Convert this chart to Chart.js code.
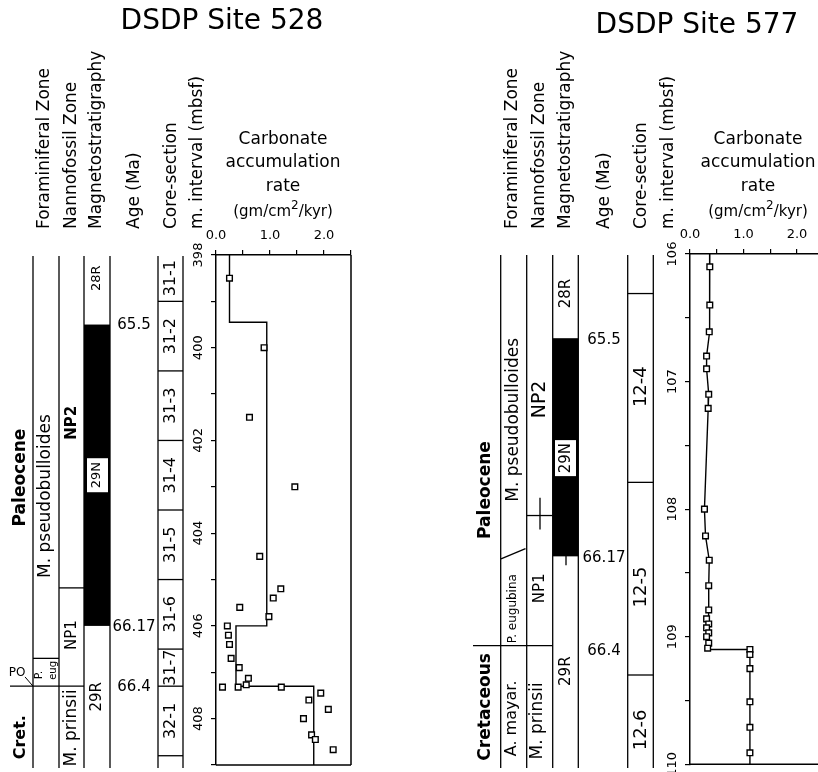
<!DOCTYPE html>
<html>
<head>
<meta charset="utf-8">
<script src="https://cdn.jsdelivr.net/npm/chart.js@4"></script>
<style>
  body { margin: 0; width: 818px; height: 772px; overflow: hidden; background: #fff; position: relative; }
  canvas { position: absolute; top: 0; }
</style>
</head>
<body>
<canvas id="site528" width="409" height="772" style="left:0"></canvas>
<canvas id="site577" width="430" height="772" style="left:409px"></canvas>
<script>
// ---- DSDP Site 528: carbonate accumulation rate samples ----
const depth528 = [398.5, 400.0, 401.5, 403.0, 404.5, 405.2, 405.4, 405.6, 405.8, 406.0, 406.2, 406.4, 406.7, 406.9, 407.13, 407.27, 407.32, 407.32, 407.32, 407.45, 407.6, 407.8, 408.0, 408.35, 408.45, 408.67];
const carb528  = [0.25, 0.89, 0.62, 1.46, 0.81, 1.20, 1.06, 0.44, 0.98, 0.21, 0.23, 0.25, 0.28, 0.43, 0.60, 0.56, 0.41, 0.12, 1.21, 1.94, 1.72, 2.08, 1.62, 1.77, 1.84, 2.17];
// interval means (step line)
const stepDepth528 = [398.0, 399.45, 399.45, 406.0, 406.0, 407.3, 407.3, 409.0];
const stepCarb528  = [0.25, 0.25, 0.94, 0.94, 0.37, 0.37, 1.81, 1.81];

// ---- DSDP Site 577 ----
const depth577 = [106.10, 106.40, 106.61, 106.80, 106.90, 107.10, 107.21, 108.00, 108.21, 108.40, 108.60, 108.79, 108.86, 108.90, 108.93, 108.97, 109.00, 109.05, 109.09, 109.10, 109.14, 109.25, 109.51, 109.71, 109.91];
const carb577  = [0.37, 0.37, 0.36, 0.31, 0.31, 0.35, 0.34, 0.27, 0.29, 0.36, 0.35, 0.35, 0.31, 0.35, 0.31, 0.35, 0.31, 0.35, 0.33, 1.12, 1.12, 1.12, 1.12, 1.12, 1.12];
const lineDepth577 = [106.0, 106.10, 106.40, 106.61, 106.80, 106.90, 107.10, 107.21, 108.00, 108.21, 108.40, 108.60, 108.79, 109.10, 109.10, 110.0];
const lineCarb577  = [0.37, 0.37, 0.37, 0.36, 0.31, 0.31, 0.35, 0.34, 0.27, 0.29, 0.36, 0.35, 0.35, 0.33, 1.12, 1.12];

// axis ticks
const carbTicks = ['0.0', '1.0', '2.0'];

// stratigraphy (depths in mbsf)
const cores528 = ['31-1', '31-2', '31-3', '31-4', '31-5', '31-6', '31-7', '32-1'];
const coreTops528 = [398.0, 399.0, 400.5, 402.0, 403.5, 405.0, 406.5, 407.3];
const coreBase528 = 408.8;
const ages = ['65.5', '66.17', '66.4'];
const ageDepths528 = [399.5, 406.0, 407.3];
const ageDepths577 = [106.66, 108.37, 109.1];
const chron29N_528 = [399.5, 406.0];
const chron29N_577 = [106.66, 108.37];
const np2Base528 = 405.18, pEugTop528 = 406.7, kt528 = 407.3;

const cores577 = ['', '12-4', '12-5', '12-6'];
const coreTops577 = [106.0, 106.31, 107.79, 109.30];
const np2Base577 = 108.05, kt577 = 109.07;

const headers = ['Foraminiferal Zone', 'Nannofossil Zone', 'Magnetostratigraphy', 'Age (Ma)', 'Core-section', 'm. interval (mbsf)'];

const FONT = '"DejaVu Sans"';

function txt(ctx, s, x, y, size, o) {
  o = o || {};
  ctx.save();
  ctx.translate(x, y);
  if (o.rot) ctx.rotate(-Math.PI / 2);
  ctx.font = (o.bold ? 'bold ' : '') + size + 'px ' + FONT;
  ctx.textAlign = o.align || 'center';
  ctx.textBaseline = 'middle';
  ctx.fillStyle = '#000';
  ctx.fillText(s, 0, 0);
  ctx.restore();
}
function line(ctx, x1, y1, x2, y2, w) {
  ctx.save();
  ctx.strokeStyle = '#000';
  ctx.lineWidth = w || 1.3;
  ctx.beginPath(); ctx.moveTo(x1, y1); ctx.lineTo(x2, y2); ctx.stroke();
  ctx.restore();
}
function carbHeader(ctx, cx) {
  txt(ctx, 'Carbonate', cx, 140, 17);
  txt(ctx, 'accumulation', cx, 163, 17);
  txt(ctx, 'rate', cx, 187, 17);
  // (gm/cm2/kyr) with superscript
  ctx.save();
  ctx.font = '15px ' + FONT;
  const a = '(gm/cm', b = '/kyr)';
  const wa = ctx.measureText(a).width, wb = ctx.measureText(b).width;
  ctx.font = '12px ' + FONT;
  const w2 = ctx.measureText('2').width;
  const x0 = cx - (wa + w2 + wb) / 2;
  ctx.restore();
  txt(ctx, a, x0, 212, 15, { align: 'left' });
  txt(ctx, '2', x0 + wa, 206, 12, { align: 'left' });
  txt(ctx, b, x0 + wa + w2, 212, 15, { align: 'left' });
}

function draw528(ctx, Y) {
  txt(ctx, 'DSDP Site 528', 222, 22, 28);
  const hx = [45, 72, 97, 135, 172, 198];
  headers.forEach((h, i) => txt(ctx, h, hx[i], 229, 17, { rot: true, align: 'left' }));
  carbHeader(ctx, 283);

  const top = Y(398) + 1, bot = 768;
  // magnetic polarity (black = normal)
  ctx.fillStyle = '#000';
  ctx.fillRect(84, Y(chron29N_528[0]), 26, Y(chron29N_528[1]) - Y(chron29N_528[0]));
  [33, 59, 84, 110, 158, 183].forEach(x => line(ctx, x, top, x, bot));
  line(ctx, 59, Y(np2Base528), 84, Y(np2Base528));
  line(ctx, 33, Y(pEugTop528), 59, Y(pEugTop528));
  line(ctx, 10, Y(kt528), 84, Y(kt528));
  // cores
  coreTops528.forEach((d, i) => {
    if (i > 0) line(ctx, 158, Y(d), 183, Y(d));
    const next = i < coreTops528.length - 1 ? coreTops528[i + 1] : coreBase528;
    txt(ctx, cores528[i], 171, (Y(d) + Y(next)) / 2, 16, { rot: true });
  });
  line(ctx, 158, Y(coreBase528), 183, Y(coreBase528));
  // ages
  ageDepths528.forEach((d, i) => txt(ctx, ages[i], 134, Y(d) + 1, 15));
  // zone labels
  txt(ctx, 'Paleocene', 21, Y(402.8), 17, { rot: true, bold: true });
  txt(ctx, 'Cret.', 21, Y(408.4), 16, { rot: true, bold: true });
  txt(ctx, 'M. pseudobulloides', 46, Y(403.2), 17, { rot: true });
  txt(ctx, 'P.', 39, Y(407.06), 11, { rot: true });
  txt(ctx, 'eug', 53, Y(406.96), 10, { rot: true });
  txt(ctx, 'PO', 17, Y(407.02), 12);
  line(ctx, 25, Y(407.1), 33, Y(407.3), 1);
  txt(ctx, 'NP2', 72, Y(401.62), 15, { rot: true, bold: true });
  txt(ctx, 'NP1', 72, Y(406.2), 15, { rot: true });
  txt(ctx, 'M. prinsii', 72, Y(408.2), 17, { rot: true });
  txt(ctx, '28R', 97, Y(398.5), 13, { rot: true });
  ctx.fillStyle = '#fff';
  ctx.fillRect(87, Y(402.75) - 17, 21, 34);
  txt(ctx, '29N', 97, Y(402.75), 13, { rot: true });
  txt(ctx, '29R', 97, Y(407.53), 15, { rot: true });
}

function draw577(ctx, Y, X) {
  txt(ctx, 'DSDP Site 577', X(697), 26, 28);
  const hx = [513, 540, 566, 605, 642, 669];
  headers.forEach((h, i) => txt(ctx, h, X(hx[i]), 229, 17, { rot: true, align: 'left' }));
  carbHeader(ctx, X(758));

  const top = Y(106) + 1, bot = 768;
  ctx.fillStyle = '#000';
  ctx.fillRect(X(552.7), Y(chron29N_577[0]), 25.6, Y(chron29N_577[1]) - Y(chron29N_577[0]));
  [500.7, 526.7, 552.7, 578.3, 627.7, 653.3].forEach(x => line(ctx, X(x), top, X(x), bot));
  // foram boundary (diagonal), nannofossil boundary with uncertainty cross
  line(ctx, X(501), Y(108.39), X(525.5), Y(108.31));
  line(ctx, X(527), Y(np2Base577), X(552.7), Y(np2Base577));
  line(ctx, X(540), Y(107.91), X(540), Y(108.16));
  line(ctx, X(566), Y(108.31), X(566), Y(108.44));
  line(ctx, X(473), Y(kt577), X(552.7), Y(kt577));
  coreTops577.forEach((d, i) => {
    if (i > 0) line(ctx, X(627.7), Y(d), X(653.3), Y(d));
  });
  txt(ctx, cores577[1], X(641), Y(107.04), 18, { rot: true });
  txt(ctx, cores577[2], X(641), Y(108.61), 18, { rot: true });
  txt(ctx, cores577[3], X(641), Y(109.73), 18, { rot: true });
  ageDepths577.forEach((d, i) => txt(ctx, ages[i], X(604), Y(d) + 2, 15));

  txt(ctx, 'Paleocene', X(486), Y(107.85), 17, { rot: true, bold: true });
  txt(ctx, 'Cretaceous', X(486), Y(109.55), 17, { rot: true, bold: true });
  txt(ctx, 'M. pseudobulloides', X(514), Y(107.3), 17, { rot: true });
  txt(ctx, 'P. eugubina', X(513), Y(108.78), 12, { rot: true });
  txt(ctx, 'A. mayar.', X(512), Y(109.64), 16, { rot: true });
  txt(ctx, 'NP2', X(540), Y(107.14), 19, { rot: true });
  txt(ctx, 'NP1', X(540), Y(108.62), 15, { rot: true });
  txt(ctx, 'M. prinsii', X(538), Y(109.66), 17, { rot: true });
  txt(ctx, '28R', X(566), Y(106.31), 15, { rot: true });
  ctx.fillStyle = '#fff';
  ctx.fillRect(X(555), Y(107.6) - 18, 21, 36);
  txt(ctx, '29N', X(566), Y(107.6), 15, { rot: true });
  txt(ctx, '29R', X(566), Y(109.27), 15, { rot: true });
}

function buildChart(id, o) {
  const frame = {
    id: 'frame' + id,
    afterDraw(chart) {
      const ctx = chart.ctx, a = chart.chartArea;
      line(ctx, a.right, a.top, a.right, a.bottom, 1.5);
      line(ctx, a.left, a.bottom, a.right, a.bottom, 1.5);
      const ys = chart.scales.y;
      o.draw(ctx, v => ys.getPixelForValue(v), x => x - o.offset);
    }
  };
  return new Chart(document.getElementById(id), {
    type: 'scatter',
    data: {
      datasets: [
        {
          data: o.depth.map((d, i) => ({ x: o.carb[i], y: d })),
          pointStyle: 'rect', pointRadius: 4, pointBorderWidth: 1.4,
          pointBorderColor: '#000', pointBackgroundColor: '#fff', order: 0
        },
        {
          data: o.lineDepth.map((d, i) => ({ x: o.lineCarb[i], y: d })),
          showLine: true, pointRadius: 0, borderColor: '#000', borderWidth: 1.4, fill: false, order: 1
        }
      ]
    },
    options: {
      responsive: false,
      animation: false,
      events: [],
      layout: { padding: { left: o.left - 30, right: o.width - o.right, top: o.top - 26, bottom: 772 - o.bottom } },
      plugins: { legend: { display: false }, tooltip: { enabled: false } },
      scales: {
        x: {
          type: 'linear', position: 'top', min: 0, max: 2.5,
          ticks: {
            stepSize: 0.5, autoSkip: false, maxRotation: 0, padding: 7, color: '#000',
            font: { family: FONT, size: 13 },
            callback: v => Number.isInteger(v) ? carbTicks[v] : ''
          },
          grid: { drawOnChartArea: false, tickLength: 5, color: '#000', lineWidth: 1.2 },
          border: { color: '#000', width: 1.5 },
          afterFit: s => { s.height = 26; }
        },
        y: {
          type: 'linear', reverse: true, min: o.min, max: o.max,
          ticks: {
            stepSize: o.step, autoSkip: false, minRotation: 90, maxRotation: 90,
            crossAlign: 'center', padding: 0, color: '#000',
            font: { family: FONT, size: 13, lineHeight: 1 },
            callback: o.label
          },
          grid: { drawOnChartArea: false, tickLength: 5, color: '#000', lineWidth: 1.2 },
          border: { color: '#000', width: 1.5 },
          afterFit: s => { s.width = 30; }
        }
      }
    },
    plugins: [frame]
  });
}

buildChart('site528', {
  depth: depth528, carb: carb528, lineDepth: stepDepth528, lineCarb: stepCarb528,
  min: 398, max: 409, step: 1, label: v => (v % 2 === 0 ? String(v) : ''),
  left: 216, right: 351, top: 255, bottom: 765, width: 409, offset: 0, draw: draw528
});
buildChart('site577', {
  depth: depth577, carb: carb577, lineDepth: lineDepth577, lineCarb: lineCarb577,
  min: 106, max: 110, step: 0.5, label: v => (Number.isInteger(v) ? String(v) : ''),
  left: 281, right: 414.75, top: 254, bottom: 764.3, width: 430, offset: 409, draw: draw577
});
</script>
</body>
</html>
